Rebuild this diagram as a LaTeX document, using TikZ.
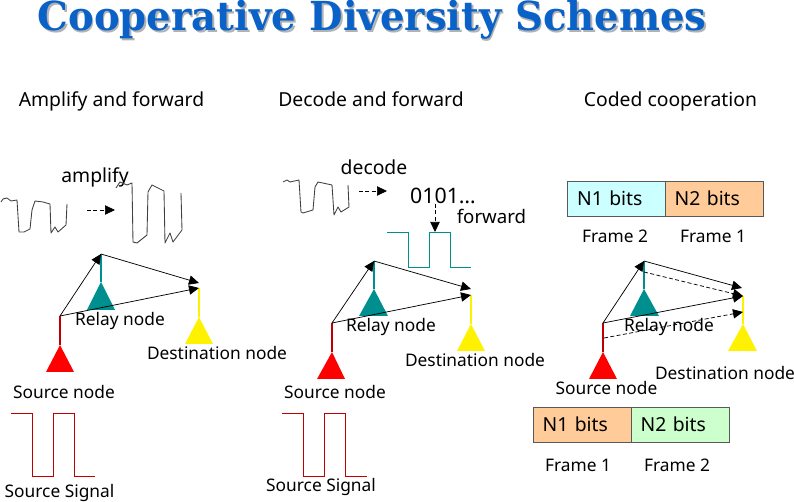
\documentclass[tikz,border=0pt]{standalone}
\usepackage{fontspec}
\setmainfont{Noto Sans}
\newfontfamily\titlefont[Scale=1]{DejaVu Serif}
\usetikzlibrary{arrows.meta}
\definecolor{teal1}{HTML}{008F8F}
\definecolor{redw}{HTML}{C00000}
\definecolor{tblue}{HTML}{0A62C8}
\definecolor{bcyan}{HTML}{CCFFFF}
\definecolor{borange}{HTML}{FFCC99}
\definecolor{bgreen}{HTML}{CCFFCC}
\tikzset{
 x=0.75pt,y=-0.75pt,
 lbl/.style={inner sep=0pt,anchor=center,text height=13pt,text depth=3pt,font=\fontsize{13}{15}\selectfont,text=black},
 head/.style={inner sep=0pt,anchor=center,text height=14pt,text depth=3pt,font=\fontsize{14.5}{16}\selectfont,text=black},
 link/.style={black,line width=0.55pt,-{Triangle[length=7.5pt,width=7pt]}},
 dlink/.style={link,dash pattern=on 3pt off 1.8pt},
 wave/.style={line width=0.65pt,line join=round},
 noisy/.style={wave,draw=black!75},
 ttl/.style={anchor=center,inner sep=0pt,xscale=0.965,font=\titlefont\bfseries\fontsize{30}{34}\selectfont},
 frame/.style={draw=black!65,line width=0.7pt,minimum height=26.25pt,minimum width=73.5pt,inner sep=0pt,font=\fontsize{14.5}{16}\selectfont},
}
\begin{document}
\begin{tikzpicture}
\useasboundingbox (0,0) rectangle (794,502);
% title
\node[ttl,text=black!30] at (373.5,21.5) {Cooperative Diversity Schemes};
\node[ttl,text=tblue] (title) at (372,20) {Cooperative Diversity Schemes};
% headings
\node[head] (h1) at (111.5,99) {Amplify and forward};
\node[head] (h2) at (371,99) {Decode and forward};
\node[head] (h3) at (670.5,99) {Coded cooperation};
% --- scheme 1
\coordinate (s1) at (60,316); \coordinate (r1) at (101,254); \coordinate (d1) at (199,288);
\coordinate (s1b) at (60,345); \coordinate (r1b) at (101,282); \coordinate (d1b) at (199,317);
\draw[redw,line width=0.8pt] (s1)--(s1b);
\draw[teal1,line width=0.8pt] (r1)--(r1b);
\draw[yellow,line width=1pt] (d1)--(d1b);
\fill[red] (s1b)--(46,372)--(74,372)--cycle;
\fill[teal1] (r1b)--(87,310)--(115,310)--cycle;
\fill[yellow] (d1b)--(185,344)--(213,344)--cycle;
\draw[link] (s1)--(r1);
\draw[link] (r1)--(199,283);
\draw[link] (s1)--(d1);
\node[lbl] (rl1) at (120,319) {Relay node};
\node[lbl] (dl1) at (217,353) {Destination node};
\node[lbl] (sl1) at (64,392) {Source node};
\node[lbl] (sg1) at (59.5,491) {Source Signal};
\node[head] (am) at (95,175) {amplify};
\draw[noisy] (1,202)--(3,199)--(7,198)--(11,201)--(17,200)--(19,232)--(24,232)--(30,229)--(32,210)--(35,201)--(43,202)--(50,204)--(51,233)--(55,227)--(58,232)--(66,225)--(67,204);
\coordinate (a1) at (87,210); \coordinate (a2) at (115,210);
\draw[dlink] (a1)--(a2);
\draw[noisy] (116,188)--(120,182)--(127,185)--(132,183)--(133,242)--(137,243)--(147,235)--(148,192)--(152,185)--(164,191)--(165,243)--(170,233)--(173,242)--(182,230)--(181,193);
\draw[redw,line width=0.6pt] (11,413)--(32,413)--(32,476)--(53,476)--(53,413)--(74,413)--(74,476)--(95,476);
% --- scheme 2
\coordinate (s2) at (332,323); \coordinate (r2) at (374,261); \coordinate (d2) at (471,295);
\coordinate (s2b) at (332,352); \coordinate (r2b) at (374,289); \coordinate (d2b) at (471,324);
\draw[redw,line width=0.8pt] (s2)--(s2b);
\draw[teal1,line width=0.8pt] (r2)--(r2b);
\draw[yellow,line width=1pt] (d2)--(d2b);
\fill[red] (s2b)--(317,379)--(345,379)--cycle;
\fill[teal1] (r2b)--(359,316)--(388,316)--cycle;
\fill[yellow] (d2b)--(457,351)--(485,351)--cycle;
\draw[link] (s2)--(r2);
\draw[link] (r2)--(471,289);
\draw[link] (s2)--(d2);
\node[lbl] (rl2) at (391,325) {Relay node};
\node[lbl] (dl2) at (475,360) {Destination node};
\node[lbl] (sl2) at (335,392) {Source node};
\node[lbl] (sg2) at (321,485) {Source Signal};
\node[head] (de) at (374,167) {decode};
\node[head,font=\fontsize{16}{18}\selectfont] (bits) at (443,196) {0101…};
\node[head,font=\fontsize{14}{16}\selectfont] (fw) at (491.5,216) {forward};
\draw[noisy] (283,182)--(287,180)--(290,182)--(299,180)--(301,212)--(303,213)--(313,210)--(315,187)--(318,182)--(332,185)--(334,215)--(338,207)--(341,212)--(349,207)--(348,185);
\coordinate (b1) at (359,191); \coordinate (b2) at (387,191);
\draw[dlink] (b1)--(b2);
\coordinate (c1) at (435,204); \coordinate (c2) at (435,232);
\draw[dlink] (c1)--(c2);
\draw[teal1,line width=0.6pt] (387,232)--(408,232)--(408,267)--(429,267)--(429,232)--(450,232)--(450,267)--(471,267);
\draw[redw,line width=0.6pt] (282,413)--(303,413)--(303,476)--(324,476)--(324,413)--(345,413)--(345,476)--(367,476);
% --- scheme 3
\coordinate (s3) at (603,323); \coordinate (r3) at (644,261); \coordinate (d3) at (743,296);
\coordinate (s3b) at (603,352); \coordinate (r3b) at (644,289); \coordinate (d3b) at (743,324);
\coordinate (r3m) at (644,272); \coordinate (s3m) at (604,338); \coordinate (d3m) at (743,312); \coordinate (d3t) at (742,288);
\draw[redw,line width=0.8pt] (s3)--(s3b);
\draw[teal1,line width=0.8pt] (r3)--(r3b);
\draw[yellow,line width=1pt] (d3)--(d3b);
\fill[red] (s3b)--(589,379)--(617,379)--cycle;
\fill[teal1] (r3b)--(630,316)--(659,316)--cycle;
\fill[yellow] (d3b)--(728,351)--(757,351)--cycle;
\draw[link] (s3)--(r3);
\draw[link] (r3)--(d3t);
\draw[link] (s3)--(d3);
\draw[dlink] (r3m)--(d3);
\draw[dlink] (s3m)--(d3m);
\node[lbl] (rl3) at (669,325) {Relay node};
\node[lbl] (dl3) at (725,373) {Destination node};
\node[lbl] (sl3) at (606.5,388) {Source node};
% frames
\node[frame,fill=bcyan,text width=63pt,align=left] (f1) at (616.5,198.5) {\hspace{2pt}N1 bits};
\node[frame,fill=borange,text width=63pt,align=left] (f2) at (714,198.5) {\hspace{2pt}N2 bits};
\node[lbl] (fl1) at (615,236) {Frame 2};
\node[lbl] (fl2) at (713,236) {Frame 1};
\node[frame,fill=borange,text width=63pt,align=left] (f3) at (582,424.5) {\hspace{2pt}N1 bits};
\node[frame,fill=bgreen,text width=63pt,align=left] (f4) at (680,424.5) {\hspace{2pt}N2 bits};
\node[lbl] (fl3) at (578,465) {Frame 1};
\node[lbl] (fl4) at (677,465) {Frame 2};
\end{tikzpicture}
\end{document}
